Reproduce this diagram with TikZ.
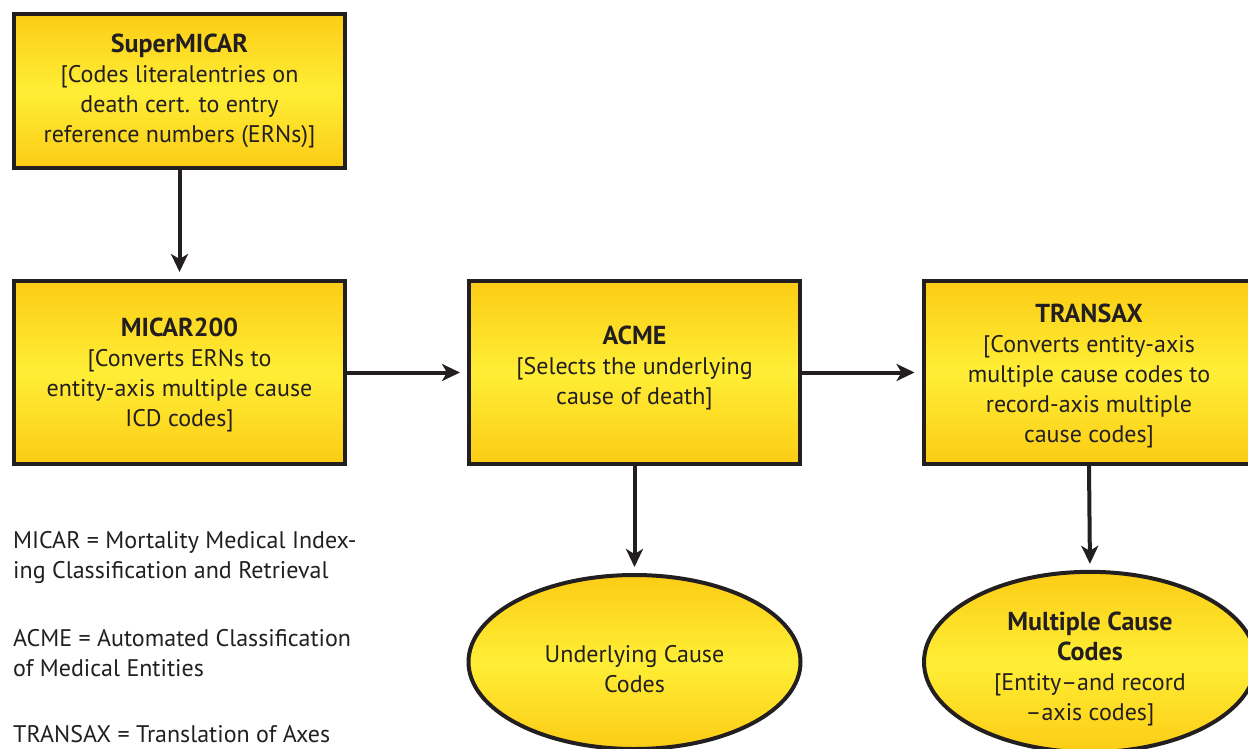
\documentclass[tikz,border=0pt]{standalone}
\usepackage{fontspec}
\setmainfont{PT Sans}
\usetikzlibrary{arrows.meta,shapes.geometric}
\definecolor{ink}{HTML}{231F20}
\definecolor{gold}{HTML}{FCCC15}
\definecolor{lemon}{HTML}{FFEE36}
\newcommand{\lift}[1]{\rule{0pt}{#1}}
\newcommand{\ttl}[1]{{\fontsize{26}{30}\selectfont\bfseries #1}}
\tikzset{
  fillgrad/.style={top color=gold,bottom color=gold,middle color=lemon},
  procbox/.style={draw=ink,line width=4pt,fillgrad,minimum width=331pt,inner sep=0pt,align=center,text=ink,font=\fontsize{24}{30}\selectfont},
  outoval/.style={ellipse,draw=ink,line width=4pt,fillgrad,minimum width=332pt,minimum height=174pt,inner sep=0pt,align=center,text=ink,font=\fontsize{24}{30}\selectfont},
  flow/.style={draw=ink,line width=4pt,-{Stealth[length=18pt,width=17pt,inset=5pt]}},
  legend/.style={anchor=north west,inner sep=0pt,align=left,text=ink,font=\fontsize{24}{30}\selectfont}
}
\begin{document}
\begin{tikzpicture}[x=1pt,y=-1pt]
\useasboundingbox (0,0) rectangle (1248,748);
\node[procbox,minimum height=154pt] (super) at (179.5,91)
  {\ttl{SuperMICAR}\\{[}Codes literalentries on\\death cert. to entry\\reference numbers (ERNs)]};
\node[procbox,minimum height=183pt] (micar) at (179.5,372.5)
  {\lift{23pt}\ttl{MICAR200}\\{[}Converts ERNs to\\entity-axis multiple cause\\ICD codes]};
\node[procbox,minimum height=183pt] (acme) at (634.5,372.5)
  {\ttl{ACME}\\{[}Selects the underlying\\cause of death]\rule[-15pt]{0pt}{15pt}};
\node[procbox,minimum height=183pt] (transax) at (1089,372.5)
  {\lift{25pt}\ttl{TRANSAX}\\{[}Converts entity-axis\\multiple cause codes to\\record-axis multiple\\cause codes]};
\node[outoval] (ucc) at (634.5,662) {\lift{32pt}Underlying Cause\\Codes};
\node[outoval] (mcc) at (1090,662) {\lift{32pt}\ttl{Multiple Cause}\\\ttl{Codes}\\{[}Entity--and record\\--axis codes]};
\draw[flow,shorten >=7pt] (super.south) -- (micar.north);
\draw[flow,shorten >=7pt] (micar.east) -- (acme.west);
\draw[flow,shorten >=7pt] (acme.east) -- (transax.west);
\draw[flow,shorten >=6pt] (acme.south) -- (ucc.north);
\draw[flow,shorten >=6pt] (transax.south) -- (mcc.north);
\node[legend] (lg1) at (13,531) {MICAR = Mortality Medical Index-\\ing Classification and Retrieval};
\node[legend] (lg2) at (13,629) {ACME = Automated Classification\\of Medical Entities};
\node[legend] (lg3) at (13,725) {TRANSAX = Translation of Axes};
\end{tikzpicture}
\end{document}
